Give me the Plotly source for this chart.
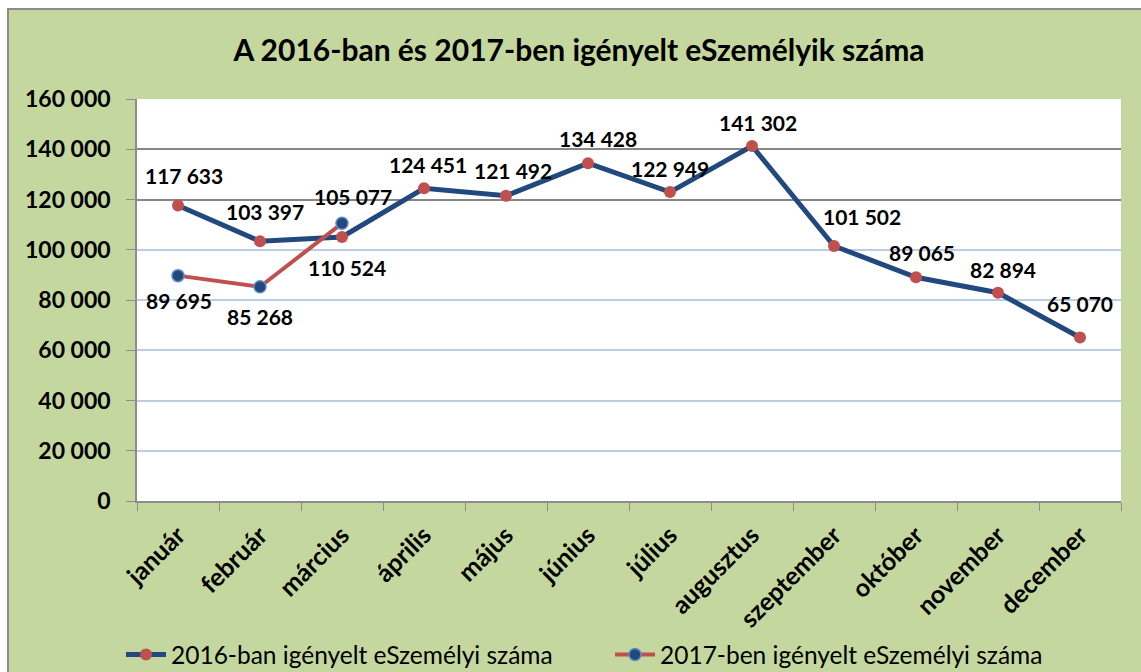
import plotly.graph_objects as go

months = ["január", "február", "március", "április", "május", "június",
          "július", "augusztus", "szeptember", "október", "november", "december"]
values_2016 = [117633, 103397, 105077, 124451, 121492, 134428,
               122949, 141302, 101502, 89065, 82894, 65070]
months_2017 = ["január", "február", "március"]
values_2017 = [89695, 85268, 110524]
y_ticks = [0, 20000, 40000, 60000, 80000, 100000, 120000, 140000, 160000]
name_2016 = "2016-ban igényelt eSzemélyi száma"
name_2017 = "2017-ben igényelt eSzemélyi száma"
title = "A 2016-ban és 2017-ben igényelt eSzemélyik száma"

# label placement (pixel offsets from each point), styling only
label_dx_2016 = [6, 5, 11, 4, 7, 10, 0, 6, 28, 6, 5, 0]
label_dy_2016 = [30, 30, 40, 24, 25, 25, 24, 23, 29, 25, 23, 34]
label_dx_2017 = [1, 0, 5]
label_dy_2017 = [-25, -30, -44]

FONT = "Lato"
BLUE = "#22497D"
RED = "#C0504D"
GREEN = "#C4D79E"

FW, FH = 1141, 672


def fmt(v):
    return f"{v:,}".replace(",", " ")


fig = go.Figure()
fig.add_trace(go.Scatter(
    x=months, y=values_2016, mode="lines+markers", name=name_2016,
    line=dict(color=BLUE, width=5),
    marker=dict(color=RED, size=12, line=dict(width=0)),
))
fig.add_trace(go.Scatter(
    x=months_2017, y=values_2017, mode="lines+markers", name=name_2017,
    line=dict(color=RED, width=4),
    marker=dict(color=BLUE, size=12, line=dict(color="#5B8BC7", width=1.5)),
))
# helper trace for gray upper gridlines
fig.add_trace(go.Scatter(x=months, y=[None] * len(months), yaxis="y2",
                         showlegend=False, hoverinfo="skip"))

label_font = dict(family=FONT, size=21, color="black", weight="bold")
annotations = []
for m, v, dx, dy in zip(months, values_2016, label_dx_2016, label_dy_2016):
    annotations.append(dict(x=m, y=v, text=fmt(v), showarrow=False,
                            xshift=dx, yshift=dy, font=label_font))
for m, v, dx, dy in zip(months_2017, values_2017, label_dx_2017, label_dy_2017):
    annotations.append(dict(x=m, y=v, text=fmt(v), showarrow=False,
                            xshift=dx, yshift=dy, font=label_font))

L, R, T, B = 137, 1121, 99, 501
W = R - L
H = B - T


def px(xp):
    return (xp - L) / W


def py(yp):
    return (B - yp) / H


shapes = [
    dict(type="rect", xref="paper", yref="paper", x0=px(-5), x1=px(7), y0=py(FH + 5), y1=py(-5),
         fillcolor="white", line=dict(width=0)),
    dict(type="rect", xref="paper", yref="paper", x0=px(-5), x1=px(FW + 5), y0=py(8), y1=py(-5),
         fillcolor="white", line=dict(width=0)),
    dict(type="line", xref="paper", yref="paper", x0=px(7), x1=px(FW + 5), y0=py(9), y1=py(9),
         line=dict(color="#8C8C8C", width=2)),
    dict(type="line", xref="paper", yref="paper", x0=px(8), x1=px(8), y0=py(9), y1=py(FH + 5),
         line=dict(color="#8C8C8C", width=2)),
]

fig.update_layout(
    width=FW, height=FH,
    margin=dict(l=L, r=FW - R, t=T, b=FH - B, autoexpand=False),
    paper_bgcolor=GREEN, plot_bgcolor="white",
    font=dict(family=FONT, color="black"),
    title=dict(text=title, x=579 / FW, xanchor="center", y=1 - 50 / FH, yanchor="middle",
               font=dict(family=FONT, size=30, color="black", weight="bold")),
    xaxis=dict(
        type="category", categoryorder="array", categoryarray=months,
        tickson="boundaries", ticks="outside", ticklen=8, tickcolor="#8C8C8C",
        showline=True, linecolor="#8C8C8C", linewidth=1.5,
        showgrid=False, tickangle=-45,
        tickfont=dict(family=FONT, size=25, color="black", weight="bold"),
        ticklabelstandoff=8,
        range=[-0.5, 11.5],
    ),
    yaxis=dict(
        range=[0, 160000], tickvals=y_ticks, ticktext=[fmt(v) for v in y_ticks],
        ticks="outside", ticklen=9, tickcolor="#8C8C8C",
        showline=True, linecolor="#8C8C8C", linewidth=1.5,
        showgrid=True, gridcolor="#B9CDE5", gridwidth=1.5,
        zeroline=False,
        tickfont=dict(family=FONT, size=23, color="black", weight="bold"),
        ticklabelstandoff=11,
    ),
    yaxis2=dict(
        range=[0, 160000], tickvals=[y for y in y_ticks if y >= 120000],
        overlaying="y", side="left", showticklabels=False, ticks="",
        showgrid=True, gridcolor="#868686", gridwidth=1.5, zeroline=False, showline=False,
    ),
    legend=dict(orientation="h", x=px(610), xanchor="center", y=py(632), yanchor="top",
                font=dict(family=FONT, size=24.5, color="black"), bgcolor="rgba(0,0,0,0)",
                itemwidth=40, entrywidth=434),
    annotations=annotations,
    shapes=shapes,
)

fig.write_html(
    "out.html",
    config={"displayModeBar": False},
    post_script=("document.body.style.margin='0';"
                 "document.body.style.overflow='hidden';"
                 "document.documentElement.style.overflow='hidden';"),
)
